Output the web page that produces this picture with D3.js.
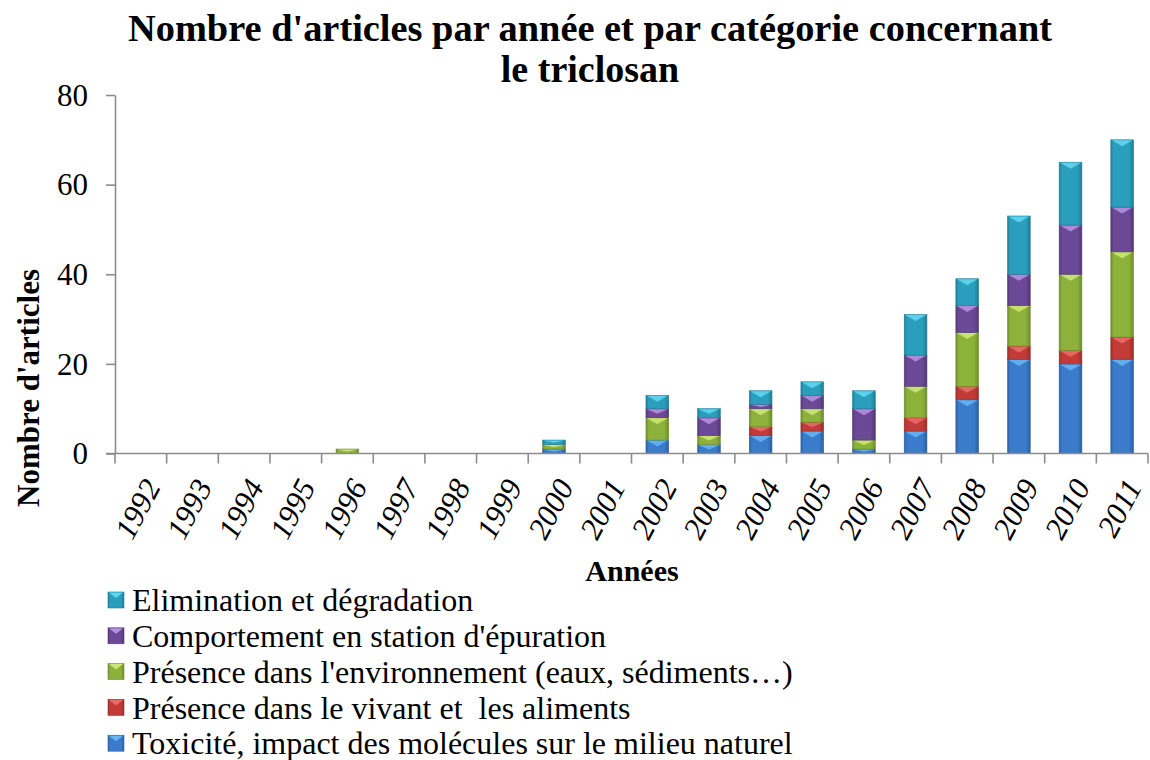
<!DOCTYPE html>
<html>
<head>
<meta charset="utf-8">
<script src="https://cdn.jsdelivr.net/npm/d3@7"></script>
<style>
  body { margin: 0; background: #fff; }
</style>
</head>
<body>
<svg width="1150" height="760"></svg>
<script>
let SVG = d3.select('svg');
const FONT = "'Liberation Serif', 'Times New Roman', Times, serif";

// --- data
const YEARS = d3.range(1992, 2012).map(String);
const TOXICITE      = [0,0,0,0,0,0,0,0,1,0,3,2,4,5,1,5,12,21,20,21];
const VIVANT        = [0,0,0,0,0,0,0,0,0,0,0,0,2,2,0,3,3,3,3,5];
const ENVIRONNEMENT = [0,0,0,0,1,0,0,0,1,0,5,2,4,3,2,7,12,9,17,19];
const STATION       = [0,0,0,0,0,0,0,0,0,0,2,4,1,3,7,7,6,7,11,10];
const ELIMINATION   = [0,0,0,0,0,0,0,0,1,0,3,2,3,3,4,9,6,13,14,15];
const Y_TICKS = [0, 20, 40, 60, 80];

const SERIES = [
  { key: 'tox',  label: 'Toxicité, impact des molécules sur le milieu naturel', values: TOXICITE, color: '#3a7bcc', light: '#66b4f2' },
  { key: 'viv',  label: 'Présence dans le vivant et  les aliments', values: VIVANT, color: '#c23b36', light: '#ea6b66' },
  { key: 'env',  label: "Présence dans l'environnement (eaux, sédiments…)", values: ENVIRONNEMENT, color: '#8cb23c', light: '#cde574' },
  { key: 'sta',  label: "Comportement en station d'épuration", values: STATION, color: '#6b4996', light: '#b291e0' },
  { key: 'eli',  label: 'Elimination et dégradation', values: ELIMINATION, color: '#2a9fbd', light: '#5fd6f0' }
];

// table for d3.stack
const TABLE = YEARS.map((y, i) => {
  const row = { year: y };
  SERIES.forEach(s => row[s.key] = s.values[i]);
  return row;
});

// --- scales
const x = d3.scaleBand().domain(YEARS).range([115, 1148]).paddingInner(0.56).paddingOuter(0.28);
const xEdges = d3.scaleLinear().domain([0, YEARS.length]).range([115, 1148]);
const y = d3.scaleLinear().domain([0, 80]).range([453.5, 95]);

// gradients
const defs = SVG.append('defs');
SERIES.forEach(s => {
  const g = defs.append('linearGradient').attr('id', 'grad-' + s.key)
    .attr('x1', '0').attr('x2', '1').attr('y1', '0').attr('y2', '0');
  const dark = d3.color(s.color).darker(0.7);
  g.append('stop').attr('offset', '0%').attr('stop-color', dark);
  g.append('stop').attr('offset', '12%').attr('stop-color', s.color);
  g.append('stop').attr('offset', '80%').attr('stop-color', s.color);
  g.append('stop').attr('offset', '100%').attr('stop-color', dark);
});

// --- bars
const stacked = d3.stack().keys(SERIES.map(s => s.key))(TABLE);
const barsG = SVG.append('g');
stacked.forEach((layer, li) => {
  const s = SERIES[li];
  const g = barsG.append('g');
  const segs = g.selectAll('g').data(layer.filter(d => d[1] > d[0])).join('g');
  segs.append('rect')
    .attr('x', d => x(d.data.year))
    .attr('y', d => y(d[1]))
    .attr('width', x.bandwidth())
    .attr('height', d => y(d[0]) - y(d[1]))
    .attr('fill', 'url(#grad-' + s.key + ')')
    .attr('stroke', d3.color(s.color).darker(0.6))
    .attr('stroke-width', 0.6);
  // light bevel on top of each segment
  segs.append('path')
    .attr('d', d => {
      const x0 = x(d.data.year) + 1, x1 = x0 + x.bandwidth() - 2;
      const top = y(d[1]) + 0.5;
      const h = Math.min(6, (y(d[0]) - y(d[1])) * 0.5);
      return `M${x0},${top}L${x1},${top}L${(x0 + x1) / 2},${top + h}Z`;
    })
    .attr('fill', s.light)
    .attr('opacity', 0.9);
});

// --- axes
const yAxisG = SVG.append('g').attr('transform', 'translate(115,0)')
  .call(d3.axisLeft(y).tickValues(Y_TICKS).tickSize(9).tickPadding(18).tickSizeOuter(0))
  .attr('font-family', null).attr('font-size', null);
yAxisG.selectAll('text').style('font-family', FONT).style('font-size', '31px').attr('dy', '0.33em');

const xAxisG = SVG.append('g').attr('transform', `translate(0,${y(0)})`);
xAxisG.append('line').attr('x1', 106).attr('x2', 1148).attr('y1', 0).attr('y2', 0);
xAxisG.selectAll('line.tick').data(d3.range(YEARS.length + 1)).join('line')
  .attr('class', 'tick')
  .attr('x1', d => xEdges(d)).attr('x2', d => xEdges(d))
  .attr('y1', 0).attr('y2', 10);
xAxisG.selectAll('text').data(YEARS).join('text')
  .attr('transform', d => `translate(${x(d) + x.bandwidth() / 2 + 11},${28}) rotate(-62)`)
  .attr('text-anchor', 'end')
  .attr('dy', '0.35em')
  .style('font-family', FONT)
  .style('font-size', '31px')
  .style('font-style', 'italic')
  .text(d => d);

SVG.selectAll('.domain, line').attr('stroke', '#8c8c8c').attr('stroke-width', 1.6);
yAxisG.selectAll('.tick line').attr('stroke', '#8c8c8c').attr('stroke-width', 1.6);

// --- titles
SVG.append('text').attr('x', 590).attr('y', 41).attr('text-anchor', 'middle')
  .style('font-family', FONT).style('font-size', '38px').style('font-weight', 'bold')
  .attr('textLength', 924).attr('lengthAdjust', 'spacingAndGlyphs')
  .text("Nombre d'articles par année et par catégorie concernant");
SVG.append('text').attr('x', 590).attr('y', 82).attr('text-anchor', 'middle')
  .style('font-family', FONT).style('font-size', '38px').style('font-weight', 'bold')
  .text('le triclosan');

SVG.append('text').attr('transform', 'translate(39,388) rotate(-90)').attr('text-anchor', 'middle')
  .style('font-family', FONT).style('font-size', '31px').style('font-weight', 'bold')
  .text("Nombre d'articles");

SVG.append('text').attr('x', 632).attr('y', 581).attr('text-anchor', 'middle')
  .style('font-family', FONT).style('font-size', '30px').style('font-weight', 'bold')
  .text('Années');

// --- legend
const legend = SVG.append('g');
const legendItems = legend.selectAll('g').data(SERIES.slice().reverse()).join('g')
  .attr('transform', (d, i) => `translate(108,${600 + i * 35.8})`);
legendItems.append('rect')
  .attr('x', 0).attr('y', -8).attr('width', 16).attr('height', 16)
  .attr('fill', d => 'url(#grad-' + d.key + ')')
  .attr('stroke', d => d3.color(d.color).darker(0.6)).attr('stroke-width', 0.6);
legendItems.append('path')
  .attr('d', 'M1,-7.5L15,-7.5L8,-2Z')
  .attr('fill', d => d.light);
legendItems.append('text')
  .attr('x', 24).attr('dy', '0.35em')
  .style('font-family', FONT)
  .style('font-size', '32px')
  .style('white-space', 'pre')
  .text(d => d.label);
</script>
</body>
</html>
